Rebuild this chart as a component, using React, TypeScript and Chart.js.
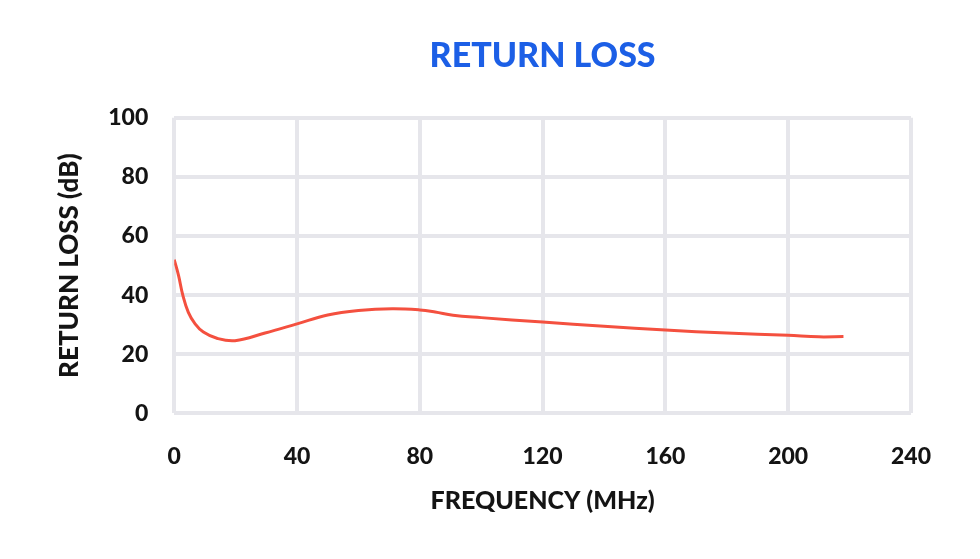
import { useEffect, useRef } from 'react'
import { Chart, registerables } from 'chart.js'

Chart.register(...registerables)

const FREQ = [0, 1.4, 2.8, 4.6, 6.8, 9.5, 13.9, 19.8, 29.6, 40, 50, 60, 71, 80, 85, 90.8, 100, 120, 140, 160, 180, 200, 210, 218]
const LOSS = [52, 46.7, 40, 34.2, 30.3, 27.5, 25.4, 24.6, 27.2, 30.3, 33.3, 34.8, 35.4, 35, 34.3, 33.2, 32.4, 30.9, 29.5, 28.2, 27.2, 26.4, 25.9, 26]

const FONT = 'Lato, "Noto Sans", sans-serif'
const INK = '#141414'
const GRID = { color: '#e6e6eb', lineWidth: 4, drawTicks: false }

export default function App() {
  const ref = useRef<HTMLCanvasElement>(null)
  const chart = useRef<Chart | null>(null)

  useEffect(() => {
    document.body.style.margin = '0'
    if (!ref.current) return
    chart.current?.destroy()
    chart.current = new Chart(ref.current, {
      type: 'line',
      data: {
        datasets: [{
          label: 'Return loss',
          data: FREQ.map((f, i) => ({ x: f, y: LOSS[i] })),
          borderColor: '#f4503f',
          borderWidth: 3,
          pointRadius: 0,
          tension: 0.4,
          fill: false,
        }],
      },
      options: {
        responsive: true, maintainAspectRatio: false, animation: false,
        layout: { padding: { left: 50, right: 69, bottom: 39, top: 0 } },
        plugins: {
          legend: { display: false },
          tooltip: { enabled: false },
          title: {
            display: true, text: 'RETURN LOSS', fullSize: false,
            color: '#1c5fe6', font: { family: FONT, size: 34, weight: '900' },
            padding: { top: 36, bottom: 41 },
          },
        },
        scales: {
          x: {
            type: 'linear', min: 0, max: 240,
            ticks: { stepSize: 40, color: INK, padding: 29, font: { family: FONT, size: 23, weight: '900' } },
            grid: GRID, border: { display: false },
            title: { display: true, text: 'FREQUENCY (MHz)', color: INK, padding: { top: -13 }, font: { family: FONT, size: 25, weight: '900' } },
          },
          y: {
            min: 0, max: 100,
            ticks: { stepSize: 20, color: INK, padding: 26, font: { family: FONT, size: 23, weight: '900' } },
            grid: GRID, border: { display: false },
            title: { display: true, text: 'RETURN LOSS (dB)', color: INK, padding: { bottom: -3 }, font: { family: FONT, size: 26, weight: '900' } },
          },
        },
      },
    })
    return () => chart.current?.destroy()
  }, [])

  return <div style={{ width: 980, height: 559 }}><canvas ref={ref} /></div>
}
